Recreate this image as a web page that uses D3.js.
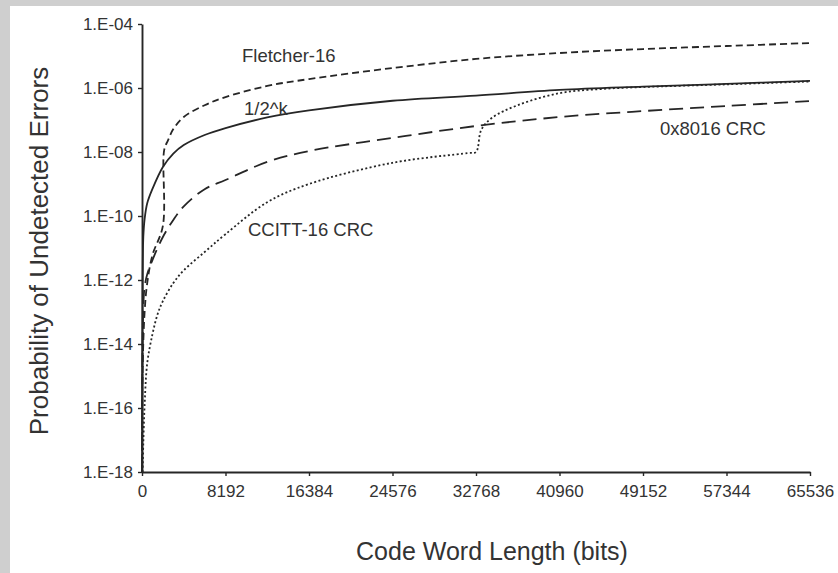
<!DOCTYPE html>
<html>
<head>
<meta charset="utf-8">
<script src="https://cdn.jsdelivr.net/npm/d3@7"></script>
<style>
  body { margin: 0; background: #cfcfcf; }
  svg { display: block; font-family: "Liberation Sans", Arial, sans-serif; }
</style>
</head>
<body>
<div id="chart"></div>
<script>
// code word length (bits) -> probability of undetected errors
const lenRandom = [8, 32, 64, 128, 256, 512, 1024, 2048, 3072, 4096, 6144, 8192, 12288, 16384, 24576, 32768, 40960, 49152, 57344, 65536];
const pRandom   = [1e-18, 1e-14, 1e-12, 2.2e-11, 8e-11, 2.5e-10, 7e-10, 3.4e-9, 8.9e-9, 1.65e-8, 3.4e-8, 5.6e-8, 1.2e-7, 2e-7, 4e-7, 5.8e-7, 8.7e-7, 1.1e-6, 1.35e-6, 1.66e-6];

const lenFletcher = [6, 64, 256, 512, 1024, 2048, 2176, 2560, 3072, 4096, 6144, 8192, 12288, 16384, 24576, 32768, 40960, 49152, 57344, 65536];
const pFletcher   = [1e-18, 1.6e-15, 1e-13, 8e-13, 6e-12, 4.9e-11, 1.15e-8, 2.35e-8, 5.2e-8, 1.24e-7, 2.9e-7, 5.2e-7, 1.16e-6, 1.9e-6, 4.2e-6, 8.1e-6, 1.24e-5, 1.65e-5, 2.05e-5, 2.55e-5];

const len8016 = [8, 32, 64, 128, 256, 512, 1024, 2048, 3072, 4096, 6144, 8192, 12288, 16384, 24576, 32768, 40960, 49152, 57344, 65536];
const p8016   = [1e-18, 1e-15, 1e-14, 1.6e-13, 6e-13, 1.5e-12, 4.2e-12, 2.2e-11, 7.5e-11, 2e-10, 6.9e-10, 1.33e-9, 4.9e-9, 1.07e-8, 2.75e-8, 6.5e-8, 1.24e-7, 1.9e-7, 2.74e-7, 3.9e-7];

const lenCcitt = [64, 128, 256, 512, 1024, 1536, 2048, 3072, 4096, 6144, 8192, 12288, 16384, 24576, 32000, 32768, 33280, 34304, 36864, 40960, 45056, 49152, 57344, 65536];
const pCcitt   = [1e-18, 8e-18, 1.2e-16, 2.5e-15, 2e-14, 8.7e-14, 2.2e-13, 8e-13, 2e-12, 7.5e-12, 2.7e-11, 2.7e-10, 1e-9, 4.6e-9, 9.3e-9, 1e-8, 4.9e-8, 1.15e-7, 2.9e-7, 6.9e-7, 9.3e-7, 1.07e-6, 1.3e-6, 1.6e-6];

const xTicks = [0, 8192, 16384, 24576, 32768, 40960, 49152, 57344, 65536];
const yTicks = [1e-4, 1e-6, 1e-8, 1e-10, 1e-12, 1e-14, 1e-16, 1e-18];

const series = [
  { name: "1/2^k",        len: lenRandom,   p: pRandom,   dash: null,    lx: 244, ly: 115 },
  { name: "Fletcher-16",  len: lenFletcher, p: pFletcher, dash: "7,4",   lx: 242, ly: 62 },
  { name: "0x8016 CRC",   len: len8016,     p: p8016,     dash: "14,7",  lx: 660, ly: 135 },
  { name: "CCITT-16 CRC", len: lenCcitt,    p: pCcitt,    dash: "2,2.4", lx: 248, ly: 236 }
];

//==============================================================================

const width = 838, height = 573;
const ink = "#262626";

const svg = d3.select("#chart").append("svg")
    .attr("width", width)
    .attr("height", height);

// grey frame on the left and top, white plate
svg.append("rect").attr("width", width).attr("height", height).attr("fill", "#cfcfcf");
svg.append("rect").attr("x", 10).attr("y", 6).attr("width", width - 10).attr("height", height - 6).attr("fill", "#fff");

const x = d3.scaleLinear().domain([0, 65536]).range([142, 810]);
const y = d3.scaleLog().domain([1e-18, 1e-4]).range([472, 24]);

const fmt = d => "1.E-" + String(-Math.round(Math.log10(d))).padStart(2, "0");

const gx = svg.append("g")
    .attr("transform", `translate(0,${y(1e-18)})`)
    .call(d3.axisBottom(x).tickValues(xTicks).tickFormat(d3.format("d")).tickSize(4).tickPadding(9).tickSizeOuter(0));

const gy = svg.append("g")
    .attr("transform", `translate(${x(0)},0)`)
    .call(d3.axisLeft(y).tickValues(yTicks).tickFormat(fmt).tickSize(4).tickPadding(5).tickSizeOuter(0));

[gx, gy].forEach(g => {
  g.select(".domain").attr("stroke", ink).attr("stroke-width", 1.9);
  g.selectAll(".tick line").attr("stroke", ink).attr("stroke-width", 1.4);
  g.selectAll(".tick text").attr("fill", "#333").attr("font-size", 17)
    .attr("font-family", "Liberation Sans, Arial, sans-serif");
});

const line = d3.line()
    .x(d => x(d[0]))
    .y(d => y(d[1]))
    .curve(d3.curveCatmullRom.alpha(0.5));

series.forEach(s => {
  const pts = s.len.map((n, i) => [n, s.p[i]]);
  svg.append("path")
      .datum(pts)
      .attr("fill", "none")
      .attr("stroke", ink)
      .attr("stroke-width", 1.8)
      .attr("stroke-dasharray", s.dash)
      .attr("d", line);

  svg.append("text")
      .attr("x", s.lx)
      .attr("y", s.ly)
      .attr("fill", "#333")
      .attr("font-size", 18.5)
      .text(s.name);
});

svg.append("text")
    .attr("x", 492)
    .attr("y", 560)
    .attr("text-anchor", "middle")
    .attr("fill", "#333")
    .attr("font-size", 25)
    .text("Code Word Length (bits)");

svg.append("text")
    .attr("transform", "translate(48,251) rotate(-90)")
    .attr("text-anchor", "middle")
    .attr("fill", "#333")
    .attr("font-size", 26)
    .text("Probability of Undetected Errors");
</script>
</body>
</html>
